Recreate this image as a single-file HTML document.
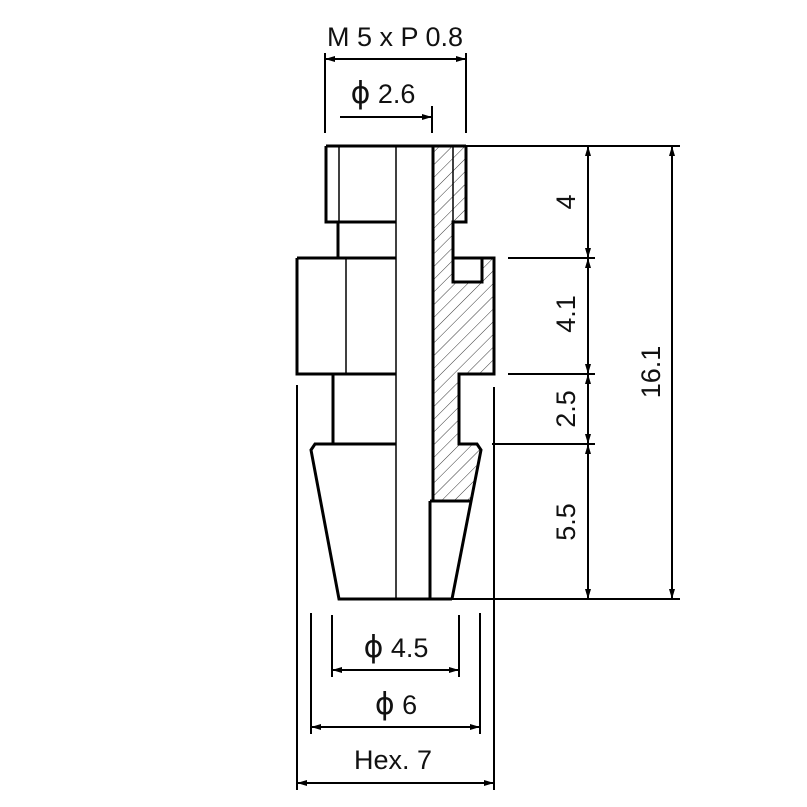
<!DOCTYPE html>
<html><head><meta charset="utf-8"><style>
html,body{margin:0;padding:0;background:#fff;width:807px;height:807px;overflow:hidden}
text{font-family:"Liberation Sans","DejaVu Sans",sans-serif;fill:#111}
.p{font-family:"DejaVu Sans",sans-serif;font-size:30px}
</style></head><body>
<svg width="807" height="807" viewBox="0 0 807 807" xmlns="http://www.w3.org/2000/svg">
<defs>
<pattern id="h" patternUnits="userSpaceOnUse" width="9" height="9" patternTransform="rotate(45)">
<line x1="0" y1="0" x2="0" y2="9" stroke="#222" stroke-width="0.9"/>
</pattern>
<marker id="a" viewBox="0 0 10 6" refX="10" refY="3" markerWidth="16" markerHeight="6" markerUnits="userSpaceOnUse" orient="auto-start-reverse">
<path d="M0,0 L10,3 L0,6 z" fill="#000"/>
</marker>
</defs>

<polygon points="433,146 466,146 466,222 453,222 453,282 482,282 482,258 494,258 494,374 459,374 459,444 477,444 481,450 470,501 433,501" fill="url(#h)" stroke="none"/>

<g fill="none" stroke="#000" stroke-width="3" stroke-linejoin="miter">
<line x1="326" y1="146" x2="466" y2="146"/>
<polyline points="326,146 326,222 396,222"/>
<polyline points="338,222 338,258"/>
<polyline points="297,258 396,258"/>
<polyline points="297,258 297,374 396,374"/>
<polyline points="333,374 333,444"/>
<polyline points="396,444 315,444 311,450 339,599 452,599"/>
<polyline points="433,146 433,501"/>
<polyline points="466,146 466,222 453,222 453,282 482,282 482,258"/>
<polyline points="453,258 494,258 494,374 459,374 459,444 477,444 481,450 452,599"/>
<line x1="430" y1="501" x2="470" y2="501"/>
<line x1="430" y1="501" x2="430" y2="599"/>
</g>
<g stroke="#000" stroke-width="1.5">
<line x1="339" y1="146" x2="339" y2="222"/>
<line x1="453" y1="146" x2="453" y2="222"/>
<line x1="346" y1="258" x2="346" y2="374"/>
<line x1="396" y1="146" x2="396" y2="599"/>
</g>

<g stroke="#000" stroke-width="2" fill="none">
<line x1="325" y1="53" x2="325" y2="133"/>
<line x1="466" y1="53" x2="466" y2="133"/>
<line x1="325" y1="59" x2="466" y2="59" marker-start="url(#a)" marker-end="url(#a)"/>
<line x1="432" y1="106" x2="432" y2="133"/>
<line x1="340" y1="117" x2="432" y2="117" marker-end="url(#a)"/>
<line x1="466" y1="146" x2="680" y2="146"/>
<line x1="508" y1="258" x2="595" y2="258"/>
<line x1="508" y1="374" x2="595" y2="374"/>
<line x1="492" y1="444" x2="595" y2="444"/>
<line x1="452" y1="599" x2="680" y2="599"/>
<line x1="588" y1="146" x2="588" y2="258" marker-start="url(#a)" marker-end="url(#a)"/>
<line x1="588" y1="258" x2="588" y2="374" marker-start="url(#a)" marker-end="url(#a)"/>
<line x1="588" y1="374" x2="588" y2="444" marker-start="url(#a)" marker-end="url(#a)"/>
<line x1="588" y1="444" x2="588" y2="599" marker-start="url(#a)" marker-end="url(#a)"/>
<line x1="672" y1="146" x2="672" y2="599" marker-start="url(#a)" marker-end="url(#a)"/>
<line x1="332" y1="615" x2="332" y2="677"/>
<line x1="459" y1="615" x2="459" y2="677"/>
<line x1="332" y1="670" x2="459" y2="670" marker-start="url(#a)" marker-end="url(#a)"/>
<line x1="311" y1="613" x2="311" y2="734"/>
<line x1="480" y1="613" x2="480" y2="734"/>
<line x1="311" y1="727" x2="480" y2="727" marker-start="url(#a)" marker-end="url(#a)"/>
<line x1="297" y1="385" x2="297" y2="790"/>
<line x1="494" y1="387" x2="494" y2="790"/>
<line x1="297" y1="783" x2="494" y2="783" marker-start="url(#a)" marker-end="url(#a)"/>
</g>

<g font-size="27">
<text x="395" y="46" text-anchor="middle">M 5 x P 0.8</text>
<text x="383" y="103" text-anchor="middle"><tspan class="p">ϕ</tspan> 2.6</text>
<text x="396" y="657" text-anchor="middle"><tspan class="p">ϕ</tspan> 4.5</text>
<text x="396" y="714" text-anchor="middle"><tspan class="p">ϕ</tspan> 6</text>
<text x="393" y="769" text-anchor="middle">Hex. 7</text>
<text transform="translate(575,202) rotate(-90)" text-anchor="middle">4</text>
<text transform="translate(575,314) rotate(-90)" text-anchor="middle">4.1</text>
<text transform="translate(575,409) rotate(-90)" text-anchor="middle">2.5</text>
<text transform="translate(575,522) rotate(-90)" text-anchor="middle">5.5</text>
<text transform="translate(660,372) rotate(-90)" text-anchor="middle">16.1</text>
</g>
</svg>
</body></html>
